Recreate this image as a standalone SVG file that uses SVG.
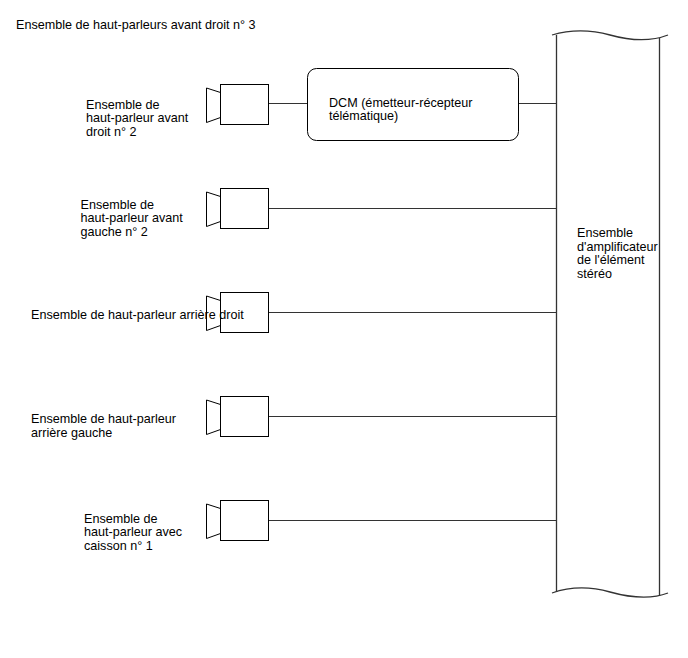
<svg xmlns="http://www.w3.org/2000/svg" width="688" height="658" viewBox="0 0 688 658">
<style>
text{font-family:"Liberation Sans",Arial,sans-serif;font-size:12.6px;fill:#000}
.box{fill:#fff;stroke:#000;stroke-width:1}
.horn{fill:#fff;stroke:#000;stroke-width:1;stroke-linejoin:miter}
.wire{stroke:#333;stroke-width:1;fill:none}
.amp{fill:none;stroke:#333;stroke-width:1.3}
</style>
<defs>
<g id="spk">
<polygon class="horn" points="220,-12 206,-16.5 206,18 220,13"/>
<rect class="box" x="220" y="-20" width="48" height="40"/>
</g>
</defs>
<rect width="688" height="658" fill="#fff"/>
<g id="title"><text x="16" y="29">Ensemble de haut-parleurs avant droit n° 3</text></g>
<g id="connectors">
<line class="wire" x1="268" y1="103.5" x2="307" y2="103.5"/>
<line class="wire" x1="518" y1="103.5" x2="557" y2="103.5"/>
<line class="wire" x1="268" y1="208.5" x2="557" y2="208.5"/>
<line class="wire" x1="268" y1="312.5" x2="557" y2="312.5"/>
<line class="wire" x1="268" y1="416.5" x2="557" y2="416.5"/>
<line class="wire" x1="268" y1="520.5" x2="557" y2="520.5"/>
</g>
<g id="amplifier">
<path class="amp" d="M552,35 C572,29 592,30 610,35 S650,42 668,35"/>
<path class="amp" d="M552,593 C572,586 592,587 610,592 S650,600 668,593"/>
<line class="amp" x1="556.5" y1="35" x2="556.5" y2="592"/>
<line class="amp" x1="659.5" y1="38" x2="659.5" y2="596"/>
<text x="577" y="237">Ensemble</text>
<text x="577" y="250.5">d'amplificateur</text>
<text x="577" y="264">de l'élément</text>
<text x="577" y="277.5">stéréo</text>
</g>
<g id="dcm">
<rect class="box" x="307.5" y="68.5" width="211" height="72" rx="9"/>
<text x="329" y="106.5">DCM (émetteur-récepteur</text>
<text x="329" y="120">télématique)</text>
</g>
<g id="spk-avant-droit-2">
<use href="#spk" transform="translate(0.5,104.5)"/>
<text x="86" y="108.7">Ensemble de</text>
<text x="86" y="122.2">haut-parleur avant</text>
<text x="86" y="135.7">droit n° 2</text>
</g>
<g id="spk-avant-gauche-2">
<use href="#spk" transform="translate(0.5,208.5)"/>
<text x="80.5" y="208.7">Ensemble de</text>
<text x="80.5" y="222.2">haut-parleur avant</text>
<text x="80.5" y="235.7">gauche n° 2</text>
</g>
<g id="spk-arriere-droit">
<use href="#spk" transform="translate(0.5,312.5)"/>
<text x="31" y="319.3">Ensemble de haut-parleur arrière droit</text>
</g>
<g id="spk-arriere-gauche">
<use href="#spk" transform="translate(0.5,416.5)"/>
<text x="31" y="423.3">Ensemble de haut-parleur</text>
<text x="31" y="436.8">arrière gauche</text>
</g>
<g id="spk-caisson-1">
<use href="#spk" transform="translate(0.5,520.5)"/>
<text x="84" y="522.7">Ensemble de</text>
<text x="84" y="536.2">haut-parleur avec</text>
<text x="84" y="549.7">caisson n° 1</text>
</g>
</svg>
